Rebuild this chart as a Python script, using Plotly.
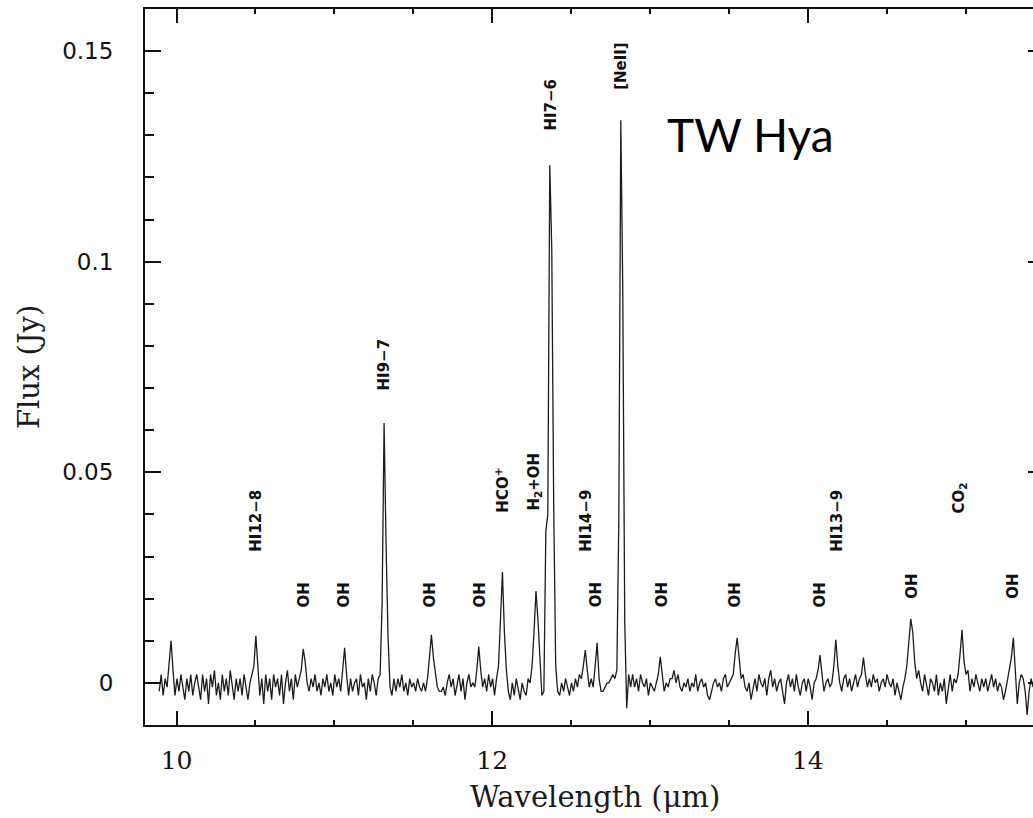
import numpy as np
import plotly.graph_objects as go

# Spectrum sampling: start wavelength and step (micron)
lam_start = 9.89
lam_step = 0.0125

# Flux density (Jy), 20 samples per row
flux = [
    -0.002, 0.002, -0.003, 0.001, -0.001, 0.004, 0.010, 0.003, -0.003, 0.001, -0.002, 0.002, -0.001, -0.004, 0.001, -0.002, 0.002, -0.003, 0.000, 0.002,
    -0.001, -0.004, 0.002, -0.002, 0.001, -0.005, 0.002, -0.001, 0.003, -0.003, 0.000, -0.004, 0.002, -0.002, 0.001, -0.003, 0.003, -0.001, -0.004, 0.001,
    -0.002, 0.001, -0.003, 0.002, -0.001, -0.004, 0.000, 0.002, 0.004, 0.0112, 0.005, -0.003, 0.001, -0.005, 0.002, -0.002, 0.001, -0.004, 0.002, -0.001,
    0.001, -0.003, 0.002, -0.005, 0.000, 0.003, -0.002, 0.001, -0.004, 0.002, -0.001, 0.001, 0.003, 0.0081, 0.005, 0.000, -0.002, 0.001, -0.001, 0.002,
    -0.002, 0.000, -0.003, 0.001, -0.001, 0.002, -0.002, 0.000, -0.003, 0.002, -0.001, 0.001, -0.002, 0.003, 0.0083, 0.002, -0.003, 0.001, -0.002, 0.000,
    0.001, -0.003, 0.002, -0.001, 0.000, -0.004, 0.001, -0.002, 0.002, 0.000, -0.003, 0.001, 0.002, 0.019, 0.0617, 0.033, 0.011, -0.001, -0.003, 0.001,
    -0.002, 0.001, -0.001, 0.002, -0.002, 0.000, -0.003, 0.001, -0.001, 0.000, -0.002, 0.001, -0.001, -0.002, 0.000, -0.002, 0.001, 0.006, 0.0114, 0.006,
    0.002, -0.001, -0.002, -0.002, -0.001, -0.003, 0.000, 0.002, -0.001, 0.001, -0.003, 0.000, 0.002, -0.002, 0.001, -0.004, 0.000, 0.002, -0.001, 0.000,
    -0.001, 0.003, 0.0086, 0.003, -0.001, 0.001, -0.002, 0.002, -0.001, 0.001, -0.003, 0.001, 0.004, 0.015, 0.0263, 0.012, 0.003, -0.002, -0.004, 0.000,
    -0.003, 0.001, -0.002, -0.004, 0.000, -0.002, -0.003, 0.001, 0.000, 0.004, 0.012, 0.0218, 0.015, 0.005, -0.003, -0.002, 0.036, 0.040, 0.1229, 0.103,
    0.0415, 0.004, -0.002, -0.003, 0.000, -0.002, 0.001, -0.001, -0.003, 0.000, -0.002, 0.001, -0.001, 0.002, 0.001, 0.004, 0.0078, 0.003, -0.001, 0.001,
    -0.001, 0.004, 0.0095, 0.001, -0.002, -0.002, -0.001, 0.000, 0.000, 0.001, 0.002, 0.001, 0.003, 0.039, 0.1336, 0.093, 0.0145, -0.006, 0.002, -0.001,
    0.002, -0.001, 0.001, -0.002, 0.002, 0.000, -0.001, 0.001, -0.003, 0.000, -0.001, -0.002, 0.000, 0.002, 0.0062, 0.002, -0.002, 0.000, -0.001, 0.001,
    0.001, 0.003, 0.000, 0.002, -0.001, -0.002, 0.000, -0.001, 0.001, -0.002, 0.000, -0.001, 0.002, -0.002, 0.000, 0.001, -0.001, 0.000, -0.003, -0.004,
    -0.002, 0.000, 0.001, -0.001, 0.000, -0.002, 0.001, 0.002, -0.001, 0.000, 0.001, 0.002, 0.007, 0.0107, 0.006, 0.001, 0.002, -0.001, -0.002, 0.000,
    -0.004, -0.001, 0.001, -0.002, 0.002, 0.000, -0.001, 0.001, -0.003, 0.001, 0.003, -0.001, 0.001, -0.002, 0.000, 0.001, -0.002, -0.005, 0.000, 0.002,
    -0.001, 0.001, -0.002, 0.002, -0.001, -0.003, 0.000, 0.001, -0.002, 0.001, -0.001, -0.004, 0.000, 0.001, 0.003, 0.0066, 0.002, -0.002, 0.000, 0.001,
    -0.001, 0.000, 0.004, 0.0102, 0.004, 0.000, -0.002, 0.001, 0.002, -0.001, 0.001, -0.002, 0.000, 0.002, -0.001, 0.001, 0.002, 0.006, 0.002, -0.001,
    0.001, -0.001, 0.002, 0.000, 0.001, -0.002, 0.000, 0.001, -0.001, 0.002, 0.000, -0.001, 0.001, -0.003, 0.000, -0.002, -0.004, -0.001, 0.001, 0.004,
    0.010, 0.0152, 0.012, 0.005, 0.001, 0.003, 0.000, -0.002, 0.002, -0.001, -0.003, 0.001, 0.000, -0.002, 0.002, -0.003, 0.000, -0.002, 0.001, -0.005,
    -0.001, 0.002, -0.002, 0.001, 0.000, 0.002, 0.007, 0.0126, 0.005, 0.002, 0.003, -0.002, 0.001, -0.001, 0.002, 0.000, -0.002, 0.001, -0.001, 0.001,
    -0.002, 0.000, 0.002, -0.001, 0.001, -0.002, 0.000, -0.001, -0.004, -0.002, 0.001, 0.003, 0.006, 0.0107, 0.002, -0.005, 0.000, 0.002, 0.001, -0.002,
    -0.0076, -0.002, 0.001, -0.001, 0.000,
]
wavelength = lam_start + lam_step * np.arange(len(flux))

# Line identifications: label, wavelength, flux level of the label centre
line_labels = ["HI12\u22128", "OH", "OH", "HI9\u22127", "OH", "OH", "HCO<sup>+</sup>",
               "H<sub>2</sub>+OH", "HI7\u22126", "[NeII]", "HI14\u22129", "OH", "OH",
               "OH", "OH", "HI13\u22129", "OH", "CO<sub>2</sub>", "OH"]
line_lam = [10.507, 10.805, 11.058, 11.312, 11.603, 11.92, 12.06,
            12.269, 12.37, 12.82, 12.598, 12.66, 13.073,
            13.536, 14.075, 14.183, 14.658, 14.962, 15.298]
line_lev = [0.0384, 0.0209, 0.0209, 0.0755, 0.0209, 0.0209, 0.0458,
            0.0477, 0.1372, 0.1464, 0.0384, 0.0209, 0.0209,
            0.0209, 0.0209, 0.0384, 0.023, 0.0439, 0.023]

x_range = [9.8, 15.427]
y_range = [-0.01, 0.16]
ink = "#111"

fig = go.Figure()
fig.add_trace(go.Scatter(
    x=wavelength, y=flux, mode="lines",
    line=dict(color="#1c1c1c", width=1.3, shape="linear"),
    hoverinfo="skip", showlegend=False,
))
# Same spectrum on the top/right frame axes (invisible) so those axes are drawn
fig.add_trace(go.Scatter(
    x=wavelength, y=flux, mode="lines", xaxis="x2", yaxis="y2",
    line=dict(color="rgba(0,0,0,0)", width=0),
    hoverinfo="skip", showlegend=False,
))

for txt, lx, ly in zip(line_labels, line_lam, line_lev):
    fig.add_annotation(
        x=lx, y=ly, xref="x", yref="y", text=f"<b>{txt}</b>",
        textangle=-90, showarrow=False, xanchor="center", yanchor="middle",
        font=dict(family="DejaVu Sans", size=15, color=ink),
    )

# Object name
fig.add_annotation(
    x=0.5856, y=0.8254, xref="paper", yref="paper", text="TW Hya",
    showarrow=False, xanchor="left", yanchor="middle",
    font=dict(family="Lato", size=46, color="#000"),
)

# Axis titles
fig.add_annotation(
    x=0.5068, y=-0.1006, xref="paper", yref="paper", text="Wavelength (\u03bcm)",
    showarrow=False, xanchor="center", yanchor="middle",
    font=dict(family="DejaVu Serif", size=29, color="#1a1a1a"),
)
fig.add_annotation(
    x=-0.1306, y=0.5, xref="paper", yref="paper", text="Flux (Jy)",
    textangle=-90, showarrow=False, xanchor="center", yanchor="middle",
    font=dict(family="DejaVu Serif", size=29, color="#1a1a1a"),
)

fig.update_layout(
    width=1033, height=818,
    margin=dict(l=145, r=0, t=9, b=93),
    paper_bgcolor="white", plot_bgcolor="white",
    showlegend=False,
    xaxis=dict(
        range=x_range, showgrid=False, zeroline=False,
        showline=True, linecolor=ink, linewidth=2, mirror="ticks",
        ticks="inside", ticklen=14, tickwidth=1.5, tickcolor=ink,
        tick0=10, dtick=2, tickformat="d",
        minor=dict(ticks="inside", ticklen=5, tickwidth=1.5, tickcolor=ink, dtick=0.5, tick0=10),
        tickfont=dict(family="DejaVu Serif", size=25, color=ink),
        ticklabelstandoff=12,
    ),
    # top frame with its own tick marks
    xaxis2=dict(
        range=x_range, overlaying="x", side="top", anchor="y2",
        showgrid=False, zeroline=False, showticklabels=False,
        showline=True, linecolor=ink, linewidth=2,
        ticks="inside", ticklen=14, tickwidth=1.5, tickcolor=ink,
        tick0=10, dtick=2,
        minor=dict(ticks="inside", ticklen=5, tickwidth=1.5, tickcolor=ink, dtick=0.5, tick0=10),
    ),
    yaxis=dict(
        range=y_range, showgrid=False, zeroline=False,
        showline=True, linecolor=ink, linewidth=2, mirror=False,
        ticks="inside", ticklen=16, tickwidth=1.5, tickcolor=ink,
        tick0=0, dtick=0.05, tickformat=".2~f",
        minor=dict(ticks="inside", ticklen=9, tickwidth=1.5, tickcolor=ink, dtick=0.01, tick0=0),
        tickfont=dict(family="DejaVu Sans", size=23, color=ink),
        ticklabelstandoff=25,
    ),
    # right-hand tick stubs at the edge of the frame
    yaxis2=dict(
        range=y_range, overlaying="y", side="right", anchor="x2",
        showgrid=False, zeroline=False, showticklabels=False, showline=False,
        ticks="inside", ticklen=5, tickwidth=1.5, tickcolor=ink,
        tick0=0, dtick=0.05,
    ),
)

fig.write_html("out.html", config={"displayModeBar": False})
